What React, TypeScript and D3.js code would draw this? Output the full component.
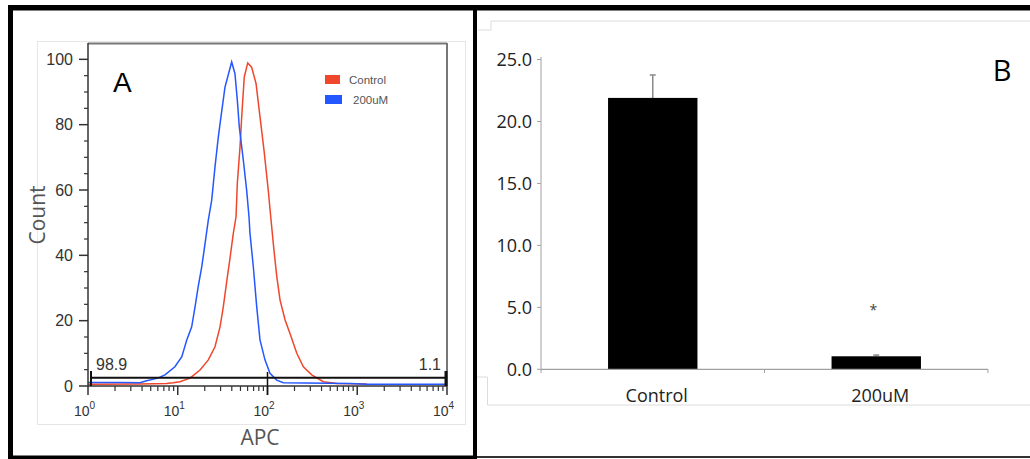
import React from "react";
import * as d3 from "d3";

// Panel A: flow cytometry histogram (APC vs Count)
const controlApc = [1, 3.8, 7.5, 8.9, 10.6, 13.7, 17.7, 21.9, 26.0, 29.6, 32.2, 35.7, 38.2, 41.6, 44.6, 46.1, 49.4, 51.6, 55.1, 60.2, 66.5, 74.5, 82.5, 91.4, 102, 108.6, 118, 127, 138, 157, 178, 212, 251, 311, 419, 590, 1273];
const controlCount = [0.5, 0.6, 0.8, 1.0, 1.3, 2.4, 4.9, 8.0, 12.0, 18.1, 24.3, 33.4, 39.1, 46.7, 51.8, 62.0, 73.2, 82.4, 94.6, 98.9, 97.6, 92.6, 82.4, 72.2, 59.9, 51.8, 41.6, 33.4, 26.3, 20.2, 16.1, 10.0, 5.9, 3.4, 1.3, 0.8, 0.6];
const treatedApc = [1, 2.3, 3.8, 4.5, 6.0, 7.2, 9.3, 11.1, 12.6, 14.3, 15.6, 16.9, 18.5, 19.8, 21.9, 23.9, 26.0, 28.3, 30.3, 33.6, 39.9, 43.4, 46.1, 48.5, 53.8, 58.6, 62.2, 63.8, 69.5, 75.8, 82.5, 93.7, 106.6, 126.7, 150, 830, 1275, 10000];
const treatedCount = [1.1, 1.1, 1.0, 1.6, 2.4, 3.4, 5.9, 9.0, 14.1, 18.1, 24.3, 30.4, 36.5, 42.1, 50.8, 56.9, 67.1, 76.2, 82.4, 91.5, 99.2, 95.6, 87.5, 79.3, 69.1, 59.9, 51.8, 46.7, 36.5, 24.3, 14.1, 8.0, 3.9, 1.8, 1.0, 0.8, 0.5, 0.5];
const countTicks = [0, 20, 40, 60, 80, 100];
const apcDecades = [0, 1, 2, 3, 4];
const legendLabels = ["Control", "200uM"];
const gateLow = "98.9";
const gateHigh = "1.1";
const gateLevel = 2.5;
const gateSplit = 100;

// Panel B: bar chart
const groups = ["Control", "200uM"];
const means = [21.9, 1.05];
const errors = [1.85, 0.1];
const barTicks = [0, 5, 10, 15, 20, 25];

const RED = "#f0462c";
const BLUE = "#2457ff";

export default function App() {
  // Panel A scales
  const xA = d3.scaleLog().domain([1, 10000]).range([88, 447]);
  const yA = d3.scaleLinear().domain([0, 105]).range([386, 43]);
  const line = d3
    .line<[number, number]>()
    .x((d) => xA(d[0]))
    .y((d) => yA(d[1]));
  const controlPts = controlApc.map((v, i) => [v, controlCount[i]] as [number, number]);
  const treatedPts = treatedApc.map((v, i) => [v, treatedCount[i]] as [number, number]);

  const minorY = d3.range(0, 105, 5).filter((v) => v % 20 !== 0);
  const minorX: number[] = [];
  for (let d = 0; d < 4; d++) for (let m = 2; m <= 9; m++) minorX.push(m * Math.pow(10, d));

  // Panel B scales
  const xB = d3.scaleBand<string>().domain(groups).range([541, 988]).paddingInner(0.6).paddingOuter(0.3);
  const yB = d3.scaleLinear().domain([0, 25]).range([369.3, 59.5]);
  const fmt = d3.format(".1f");

  const axisFont = "'Liberation Sans', Arial, sans-serif";
  const bFont = "'Open Sans', sans-serif";

  return (
    <svg width={1030} height={459} style={{ position: "absolute", left: 0, top: 0, background: "#fff" }}>
      <rect x={0} y={0} width={1030} height={459} fill="#fff" />

      {/* ---------- Panel A ---------- */}
      <rect x={37.5} y={41.5} width={428} height={383} fill="none" stroke="#e6e6e6" strokeWidth={1} />
      {/* plot box top and right */}
      <line x1={88} y1={43.5} x2={447} y2={43.5} stroke="#777" strokeWidth={2} />
      <line x1={447} y1={43} x2={447} y2={386} stroke="#777" strokeWidth={2} />

      {/* curves */}
      <path d={line(controlPts) || ""} fill="none" stroke={RED} strokeWidth={1.5} />
      <path d={line(treatedPts) || ""} fill="none" stroke={BLUE} strokeWidth={1.5} />

      {/* y axis */}
      <line x1={88} y1={43} x2={88} y2={386} stroke="#333" strokeWidth={1.5} />
      {minorY.map((v) => (
        <line key={"my" + v} x1={84} x2={88} y1={yA(v)} y2={yA(v)} stroke="#333" strokeWidth={1.2} />
      ))}
      {countTicks.map((v) => (
        <g key={"ty" + v}>
          <line x1={79} x2={88} y1={yA(v)} y2={yA(v)} stroke="#333" strokeWidth={1.5} />
          <text x={73} y={yA(v)} dy="0.36em" textAnchor="end" fontFamily={axisFont} fontSize={16} fill="#333">
            {v}
          </text>
        </g>
      ))}

      {/* x axis */}
      <line x1={88} y1={386} x2={447} y2={386} stroke="#333" strokeWidth={1.5} />
      {minorX.map((v) => (
        <line key={"mx" + v} x1={xA(v)} x2={xA(v)} y1={386} y2={391} stroke="#333" strokeWidth={1.2} />
      ))}
      {apcDecades.map((p) => {
        const x = xA(Math.pow(10, p));
        return (
          <g key={"tx" + p}>
            <line x1={x} x2={x} y1={386} y2={395} stroke="#333" strokeWidth={1.5} />
            <text x={x - 14} y={416} fontFamily={axisFont} fontSize={14} fill="#333">
              10
              <tspan dy={-7} fontSize={10}>
                {p}
              </tspan>
            </text>
          </g>
        );
      })}

      {/* gate */}
      <line x1={91} y1={yA(gateLevel)} x2={447} y2={yA(gateLevel)} stroke="#111" strokeWidth={2} />
      <line x1={91} x2={91} y1={371} y2={386} stroke="#111" strokeWidth={2} />
      <line x1={446} x2={446} y1={371} y2={386} stroke="#111" strokeWidth={3} />
      <line x1={xA(gateSplit)} x2={xA(gateSplit)} y1={372} y2={395} stroke="#111" strokeWidth={1.5} />
      <text x={96} y={370} fontFamily={axisFont} fontSize={16} fill="#333">
        {gateLow}
      </text>
      <text x={441} y={370} textAnchor="end" fontFamily={axisFont} fontSize={16} fill="#333">
        {gateHigh}
      </text>

      {/* axis titles */}
      <text x={260} y={445} textAnchor="middle" fontFamily={bFont} fontSize={21} fill="#555">
        APC
      </text>
      <text
        transform="translate(45,215) rotate(-90)"
        textAnchor="middle"
        fontFamily={bFont}
        fontSize={21}
        fill="#555"
      >
        Count
      </text>

      {/* panel letter */}
      <text x={113} y={92} fontFamily={axisFont} fontSize={28} fill="#000">
        A
      </text>

      {/* legend */}
      <rect x={325} y={75} width={15} height={9} fill={RED} />
      <rect x={325} y={95} width={17} height={9} fill={BLUE} />
      <text x={349} y={83.5} fontFamily={axisFont} fontSize={11.5} fill="#555">
        {legendLabels[0]}
      </text>
      <text x={353} y={104} fontFamily={axisFont} fontSize={11.5} fill="#555">
        {legendLabels[1]}
      </text>

      {/* ---------- Panel B ---------- */}
      <path d="M478,30 H491 V21 H1030" fill="none" stroke="#dcdcdc" strokeWidth={1} />
      <path d="M477,377 H487.5 V405 H1030" fill="none" stroke="#dcdcdc" strokeWidth={1} />

      {/* y axis */}
      <line x1={541} x2={541} y1={57} y2={369.3} stroke="#a0a0a0" strokeWidth={1} />
      {barTicks.map((v) => (
        <g key={"by" + v}>
          <line x1={537} x2={541} y1={yB(v)} y2={yB(v)} stroke="#a0a0a0" strokeWidth={1} />
          <text x={532} y={yB(v)} dy="0.36em" textAnchor="end" fontFamily={bFont} fontSize={18} fill="#222">
            {fmt(v)}
          </text>
        </g>
      ))}

      {/* bars */}
      {groups.map((g, i) => {
        const x = xB(g) as number;
        const w = xB.bandwidth();
        const cx = x + w / 2;
        return (
          <g key={"bar" + g}>
            <line x1={cx} x2={cx} y1={yB(means[i])} y2={yB(means[i] + errors[i])} stroke="#8a8a8a" strokeWidth={1.5} />
            <line x1={cx - 3} x2={cx + 3} y1={yB(means[i] + errors[i])} y2={yB(means[i] + errors[i])} stroke="#8a8a8a" strokeWidth={1.5} />
            <rect x={x} y={yB(means[i])} width={w} height={yB(0) - yB(means[i])} fill="#000" />
            <text x={cx + 4} y={402} textAnchor="middle" fontFamily={bFont} fontSize={18} fill="#222">
              {g}
            </text>
          </g>
        );
      })}

      {/* x axis */}
      <line x1={541} x2={988} y1={369.3} y2={369.3} stroke="#a0a0a0" strokeWidth={1.2} />
      {[541, 764.5, 988].map((x) => (
        <line key={"bx" + x} x1={x} x2={x} y1={369.3} y2={373} stroke="#a0a0a0" strokeWidth={1} />
      ))}

      {/* significance marker */}
      <text
        x={(xB(groups[1]) as number) + xB.bandwidth() / 2 - 3}
        y={yB(5) + 8}
        textAnchor="middle"
        fontFamily={bFont}
        fontSize={14}
        fill="#444"
      >
        *
      </text>

      {/* panel letter */}
      <text x={1002} y={81} textAnchor="middle" fontFamily={bFont} fontSize={29} fill="#000">
        B
      </text>

      {/* ---------- outer frame ---------- */}
      <rect x={8} y={5} width={1022} height={5.5} fill="#000" />
      <rect x={8} y={5} width={5} height={454} fill="#000" />
      <rect x={473} y={5} width={4} height={454} fill="#000" />
      <rect x={8} y={455.5} width={469} height={3.5} fill="#000" />
      <rect x={477} y={456} width={553} height={2} fill="#333" />
    </svg>
  );
}
